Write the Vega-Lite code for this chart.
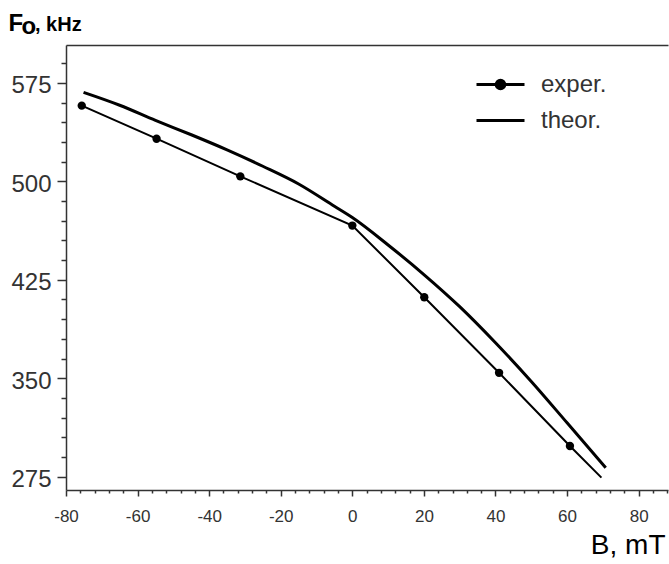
{
  "$schema": "https://vega.github.io/schema/vega-lite/v6.json",
  "width": 602,
  "height": 445,
  "autosize": "none",
  "padding": {"left": 66, "top": 45, "right": 1, "bottom": 74},
  "background": "white",
  "config": {
    "view": {"stroke": null},
    "font": "Liberation Sans"
  },
  "title": {
    "text": ", kHz",
    "anchor": "start",
    "frame": "group",
    "font": "Liberation Sans",
    "fontSize": 20,
    "fontWeight": "bold",
    "color": "black",
    "baseline": "alphabetic",
    "offset": 0,
    "dx": -31,
    "dy": 40
  },
  "data": {
    "values": [
      {"series": "exper.", "B": -75.6, "F": 557.7, "m": 1},
      {"series": "exper.", "B": -54.7, "F": 532.5, "m": 1},
      {"series": "exper.", "B": -31.3, "F": 503.8, "m": 1},
      {"series": "exper.", "B": 0, "F": 466.3, "m": 1},
      {"series": "exper.", "B": 20.1, "F": 411.7, "m": 1},
      {"series": "exper.", "B": 41.0, "F": 354.1, "m": 1},
      {"series": "exper.", "B": 60.8, "F": 298.3, "m": 1},
      {"series": "exper.", "B": 69.6, "F": 274.2, "m": 0},
      {"series": "theor.", "B": -75.1, "F": 567.8, "m": 0},
      {"series": "theor.", "B": -65, "F": 558, "m": 0},
      {"series": "theor.", "B": -55, "F": 546.5, "m": 0},
      {"series": "theor.", "B": -45, "F": 535.5, "m": 0},
      {"series": "theor.", "B": -35, "F": 524, "m": 0},
      {"series": "theor.", "B": -25, "F": 511.5, "m": 0},
      {"series": "theor.", "B": -15, "F": 498, "m": 0},
      {"series": "theor.", "B": -5, "F": 481, "m": 0},
      {"series": "theor.", "B": 0, "F": 472.4, "m": 0},
      {"series": "theor.", "B": 10, "F": 451.5, "m": 0},
      {"series": "theor.", "B": 20, "F": 429, "m": 0},
      {"series": "theor.", "B": 30, "F": 404.5, "m": 0},
      {"series": "theor.", "B": 40, "F": 377, "m": 0},
      {"series": "theor.", "B": 50, "F": 347.5, "m": 0},
      {"series": "theor.", "B": 60, "F": 316, "m": 0},
      {"series": "theor.", "B": 70.8, "F": 281.8, "m": 0}
    ]
  },
  "encoding": {
    "y": {
      "field": "F", "type": "quantitative",
      "scale": {"domain": [264.8, 603.9], "nice": false, "zero": false},
      "axis": {
        "title": "F",
        "titleFont": "Liberation Sans", "titleFontSize": 24, "titleFontWeight": "bold", "titleColor": "black",
        "titleAngle": 0, "titleAlign": "left", "titleBaseline": "alphabetic",
        "titleX": -58, "titleY": -15,
        "values": [275,290,305,320,335,350,365,380,395,410,425,440,455,470,485,500,515,530,545,560,575,590],
        "labelExpr": "(datum.value - 275) % 75 === 0 ? '' + datum.value : ''",
        "labelOverlap": false, "labelFlush": false,
        "labelFont": "Liberation Sans", "labelFontSize": 24, "labelColor": "#333",
        "labelPadding": 6, "labelOffset": 3,
        "tickSize": {"condition": {"test": "(datum.value - 275) % 75 === 0", "value": 9}, "value": 5},
        "tickColor": "#333", "tickWidth": 1.5,
        "domainColor": "#333", "domainWidth": 1.5,
        "grid": false
      }
    }
  },
  "layer": [
    {
      "transform": [{"filter": "datum.series === 'exper.'"}],
      "mark": {"type": "line", "strokeWidth": 2},
      "encoding": {
        "x": {
          "field": "B", "type": "quantitative",
          "scale": {"domain": [-80, 88.2], "nice": false, "zero": false},
          "axis": {
            "orient": "bottom",
            "title": "B, mT",
            "titleFont": "Liberation Sans", "titleFontSize": 28, "titleFontWeight": "normal", "titleColor": "black",
            "titleAlign": "right", "titleBaseline": "alphabetic", "titleAnchor": "end",
            "titleX": 599, "titleY": 63,
            "values": [-80,-76,-72,-68,-64,-60,-56,-52,-48,-44,-40,-36,-32,-28,-24,-20,-16,-12,-8,-4,0,4,8,12,16,20,24,28,32,36,40,44,48,52,56,60,64,68,72,76,80,84,88],
            "labelExpr": "datum.value % 20 === 0 ? (datum.value < 0 ? '-' + abs(datum.value) : '' + datum.value) : ''",
            "labelOverlap": false, "labelFlush": false,
            "labelFont": "Liberation Sans Narrow, Arial Narrow, Liberation Sans", "labelFontSize": 17, "labelColor": "#333",
            "labelPadding": 12,
            "tickSize": {"condition": {"test": "datum.value % 20 === 0", "value": 6}, "value": 3},
            "tickColor": "#333", "tickWidth": 1.5,
            "domainColor": "#333", "domainWidth": 1.5,
            "grid": false
          }
        },
        "color": {
          "field": "series", "type": "nominal",
          "scale": {"domain": ["exper.", "theor."], "range": ["black", "black"]},
          "legend": {
            "title": null,
            "orient": "none", "legendX": 421, "legendY": 26,
            "symbolType": "M-2,0H2", "symbolSize": 576, "symbolStrokeWidth": 3,
            "symbolStrokeColor": "black", "symbolFillColor": "black",
            "labelFont": "Liberation Sans", "labelFontSize": 24, "labelColor": "#333",
            "labelOffset": 27, "rowPadding": 10, "padding": 0, "labelLimit": 300,
            "encode": {
              "symbols": {
                "update": {
                  "shape": {"signal": "datum.value === 'exper.' ? 'M-2,0H2M-0.36,0A0.36,0.36 0 1,0 0.36,0A0.36,0.36 0 1,0 -0.36,0Z' : 'M-2,0H2'"},
                  "fill": {"value": "black"},
                  "stroke": {"value": "black"},
                  "strokeWidth": {"value": 3}
                }
              }
            }
          }
        }
      }
    },
    {
      "transform": [{"filter": "datum.series === 'theor.'"}],
      "mark": {"type": "line", "strokeWidth": 3, "interpolate": "monotone"},
      "encoding": {
        "x": {"field": "B", "type": "quantitative", "axis": null},
        "color": {"field": "series", "type": "nominal"}
      }
    },
    {
      "transform": [{"filter": "datum.m === 1"}],
      "mark": {"type": "point", "filled": true, "opacity": 1, "size": 70, "color": "black"},
      "encoding": {
        "x": {
          "field": "B", "type": "quantitative",
          "axis": {
            "orient": "top",
            "title": "o",
            "titleFont": "Liberation Sans", "titleFontSize": 24, "titleFontWeight": "bold", "titleColor": "black",
            "titleAngle": 0, "titleAlign": "left", "titleBaseline": "alphabetic",
            "titleX": -45, "titleY": -12,
            "labels": false, "ticks": false, "grid": false,
            "domainColor": "#333", "domainWidth": 1.5
          }
        }
      }
    }
  ],
  "resolve": {"axis": {"x": "independent"}}
}
